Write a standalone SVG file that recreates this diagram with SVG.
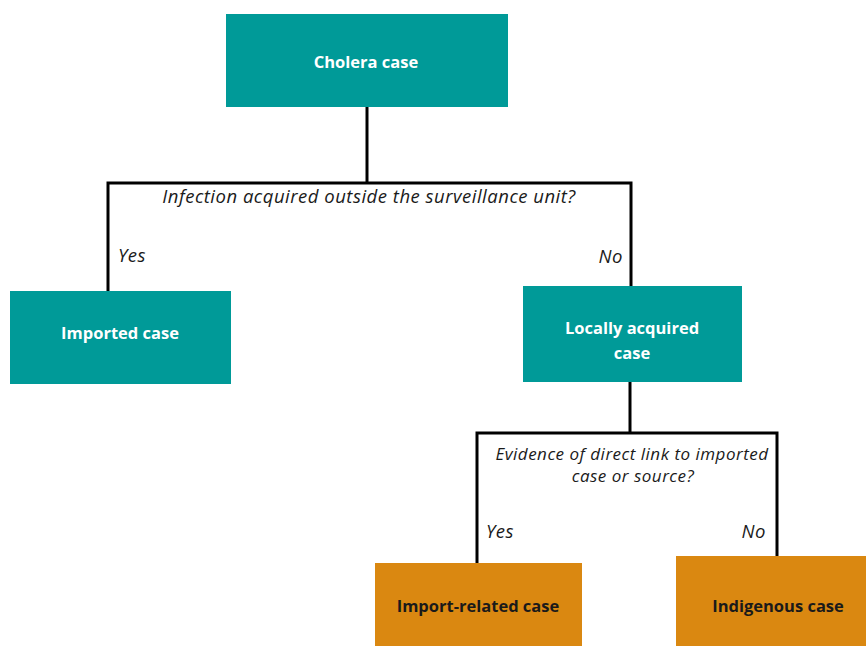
<svg xmlns="http://www.w3.org/2000/svg" width="866" height="646" viewBox="0 0 866 646">
<style>
.teal{fill:#009a98}
.orange{fill:#da8811}
.lbl{font-family:"Open Sans","Noto Sans",sans-serif;font-weight:bold;font-size:16.5px;text-anchor:middle}
.wht{fill:#ffffff}
.blk{fill:#1a1a1a}
.q{font-family:"Open Sans","Noto Sans",sans-serif;font-style:italic;font-size:18.5px;letter-spacing:0.5px;fill:#1a1a1a}
.q2{font-size:17px;letter-spacing:0.5px}
.conn{fill:none;stroke:#000;stroke-width:3;stroke-linejoin:miter}
</style>
<rect width="866" height="646" fill="#ffffff"/>
<g id="connectors">
<path class="conn" d="M367,107 V183"/>
<path class="conn" d="M108,291 V183 H631 V286"/>
<path class="conn" d="M630,382 V433"/>
<path class="conn" d="M477,563 V433 H777 V556"/>
<text class="q" x="369" y="203" text-anchor="middle">Infection acquired outside the surveillance unit?</text>
<text class="q" x="118" y="262">Yes</text>
<text class="q" x="623" y="263" text-anchor="end">No</text>
<text class="q q2" x="632" y="460" text-anchor="middle">Evidence of direct link to imported</text>
<text class="q q2" x="633" y="482" text-anchor="middle">case or source?</text>
<text class="q" x="486" y="538">Yes</text>
<text class="q" x="766" y="538" text-anchor="end">No</text>
</g>
<g id="cholera">
<rect class="teal" x="226" y="14" width="282" height="93"/>
<text class="lbl wht" x="366" y="68">Cholera case</text>
</g>
<g id="imported">
<rect class="teal" x="10" y="291" width="221" height="93"/>
<text class="lbl wht" x="120" y="339">Imported case</text>
</g>
<g id="locally">
<rect class="teal" x="523" y="286" width="219" height="96"/>
<text class="lbl wht" x="632" y="334">Locally acquired</text>
<text class="lbl wht" x="632" y="359">case</text>
</g>
<g id="importrelated">
<rect class="orange" x="375" y="563" width="207" height="83"/>
<text class="lbl blk" x="478" y="612">Import-related case</text>
</g>
<g id="indigenous">
<rect class="orange" x="676" y="556" width="190" height="90"/>
<text class="lbl blk" x="778" y="612">Indigenous case</text>
</g>
</svg>
